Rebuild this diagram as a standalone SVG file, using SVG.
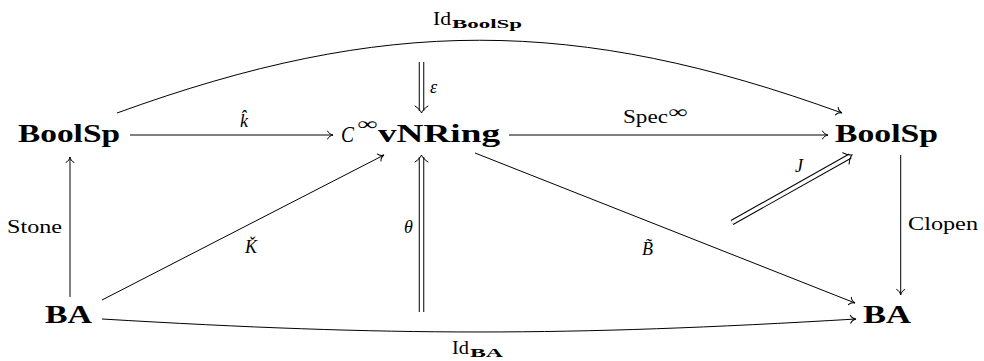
<svg xmlns="http://www.w3.org/2000/svg" width="984" height="361" viewBox="0 0 984 361">
<style>
.node{font-family:"Liberation Serif","DejaVu Serif",serif;font-weight:bold;font-size:25px;fill:#000}
.lab{font-family:"Liberation Serif","DejaVu Serif",serif;font-size:18px;fill:#000}
.it{font-style:italic}
.sub{font-family:"Liberation Serif","DejaVu Serif",serif;font-weight:bold;font-size:13px;fill:#000}
.ar{fill:none;stroke:#000;stroke-width:1;marker-end:url(#to)}
.dblo{fill:none;stroke:#000;stroke-width:5.5}
.dbli{fill:none;stroke:#fff;stroke-width:3.5}
.dblh{fill:none;stroke:none;marker-end:url(#imp)}
</style>
<defs>
<marker id="to" markerUnits="userSpaceOnUse" viewBox="-7 -6 8 12" markerWidth="8" markerHeight="12" refX="0" refY="0" orient="auto" overflow="visible">
<path d="M-5.5,-4 C-4.5,-1.5 -1.5,-0.3 0,0 C-1.5,0.3 -4.5,1.5 -5.5,4" fill="none" stroke="#000" stroke-width="1" stroke-linecap="round"/>
</marker>
<marker id="imp" markerUnits="userSpaceOnUse" viewBox="-9 -8 10 16" markerWidth="10" markerHeight="16" refX="0" refY="0" orient="auto" overflow="visible">
<path d="M-7,-6.5 C-5,-3.5 -2.5,-1 0,0 C-2.5,1 -5,3.5 -7,6.5" fill="none" stroke="#000" stroke-width="1" stroke-linecap="round"/>
</marker>
</defs>

<g id="connectors">
<path class="ar" d="M130,135 L333,135"/>
<path class="ar" d="M509,135 L828,135"/>
<path class="ar" d="M70,297 L70,157"/>
<path class="ar" d="M900.7,155 L900.7,295"/>
<path class="ar" d="M102,300 L384,155"/>
<path class="ar" d="M475,153 L855,303"/>
<path class="ar" d="M117,113 C384,16 575,16 842,113"/>
<path class="ar" d="M102,319 C392,336.3 566,336.3 856,319"/>
<path class="dblo" d="M421.5,62 L421.5,111"/>
<path class="dbli" d="M421.5,62 L421.5,111"/>
<path class="dblh" d="M421.5,62 L421.5,113"/>
<path class="dblo" d="M421.5,312 L421.5,157"/>
<path class="dbli" d="M421.5,312 L421.5,157"/>
<path class="dblh" d="M421.5,312 L421.5,155"/>
<path class="dblo" d="M732,222.5 L850.3,156"/>
<path class="dbli" d="M732,222.5 L850.3,156"/>
<path class="dblh" d="M732,222.5 L852,155"/>
</g>

<g id="n-boolsp-left"><text class="node" x="18" y="142" textLength="102" lengthAdjust="spacingAndGlyphs">BoolSp</text></g>
<g id="n-cvnring">
<text class="node" y="142"><tspan x="341" font-style="italic" font-weight="normal" font-size="24" textLength="13" lengthAdjust="spacingAndGlyphs">C</tspan><tspan x="357" dy="-12" font-size="18" font-weight="normal" textLength="20" lengthAdjust="spacingAndGlyphs">∞</tspan><tspan x="378" dy="12" textLength="122" lengthAdjust="spacingAndGlyphs">vNRing</tspan></text>
</g>
<g id="n-boolsp-right"><text class="node" x="835" y="142" textLength="103" lengthAdjust="spacingAndGlyphs">BoolSp</text></g>
<g id="n-ba-left"><text class="node" x="45" y="323" textLength="47" lengthAdjust="spacingAndGlyphs">BA</text></g>
<g id="n-ba-right"><text class="node" x="863" y="323" textLength="48" lengthAdjust="spacingAndGlyphs">BA</text></g>

<g id="labels">
<text class="lab it" x="240" y="127">k̂</text>
<text class="lab it" x="430" y="93">ε</text>
<text class="lab" x="623" y="123" textLength="45" lengthAdjust="spacingAndGlyphs">Spec</text>
<text class="lab" x="668" y="118" textLength="19" lengthAdjust="spacingAndGlyphs" font-size="15">∞</text>
<text class="lab" x="433" y="25" textLength="18" lengthAdjust="spacingAndGlyphs">Id</text>
<text class="sub" x="452" y="28" textLength="70" lengthAdjust="spacingAndGlyphs">BoolSp</text>
<text class="lab" x="7" y="233" textLength="55" lengthAdjust="spacingAndGlyphs">Stone</text>
<text class="lab it" x="245" y="253">Ǩ</text>
<text class="lab it" x="404" y="233">θ</text>
<text class="lab it" x="642" y="255">B̃</text>
<text class="lab it" x="795" y="172">J</text>
<text class="lab" x="908" y="230" textLength="70" lengthAdjust="spacingAndGlyphs">Clopen</text>
<text class="lab" x="452" y="354" textLength="17" lengthAdjust="spacingAndGlyphs">Id</text>
<text class="sub" x="470" y="357" textLength="33" lengthAdjust="spacingAndGlyphs">BA</text>
</g>
</svg>
